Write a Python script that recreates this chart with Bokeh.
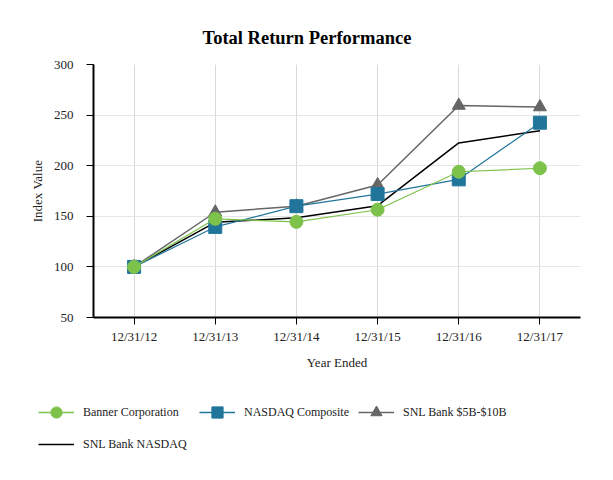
from bokeh.plotting import figure
from bokeh.models import Range1d, FactorRange, Legend, LegendItem, FixedTicker
from bokeh.embed import file_html
from bokeh.resources import INLINE

years = ["12/31/12", "12/31/13", "12/31/14", "12/31/15", "12/31/16", "12/31/17"]
banner = [100, 147.5, 144.5, 156.5, 194, 197.5]
nasdaq = [100, 139.5, 160, 172, 186.5, 242.5]
snl_5b10b = [100, 154, 160, 181, 259.5, 258]
snl_nasdaq = [100, 144, 148.5, 160.5, 222.5, 234.5]
y_ticks = [50, 100, 150, 200, 250, 300]
series_names = ["Banner Corporation", "NASDAQ Composite", "SNL Bank $5B-$10B", "SNL Bank NASDAQ"]

FONT = "Liberation Serif"
GREEN = "#7dc24b"
BLUE = "#21759b"
GRAY = "#666666"
BLACK = "#000000"
TXT = "#222222"
NAN = float("nan")

p = figure(width=605, height=372, x_range=FactorRange(*years), y_range=Range1d(50, 300),
           output_backend="svg", toolbar_location=None, title="Total Return Performance",
           min_border_left=93, min_border_right=25, min_border_top=64, min_border_bottom=10)
p.outline_line_color = None
p.background_fill_color = "white"

p.title.text_font = FONT
p.title.text_font_size = "18.5px"
p.title.text_font_style = "bold"
p.title.text_color = "black"
p.title.align = "left"
p.title.vertical_align = "top"
p.title.offset = 109
p.title.standoff = 30

p.line(years, snl_nasdaq, line_color=BLACK, line_width=1.5)
p.line(years, snl_5b10b, line_color=GRAY, line_width=1.5)
p.scatter(years, snl_5b10b, marker="triangle", size=13, fill_color=GRAY, line_color=GRAY)
p.line(years, nasdaq, line_color=BLUE, line_width=1.2)
p.scatter(years, nasdaq, marker="square", size=13, fill_color=BLUE, line_color=BLUE)
p.line(years, banner, line_color=GREEN, line_width=1.2)
p.scatter(years, banner, marker="circle", size=13, fill_color=GREEN, line_color=GREEN)

for ax in (p.xaxis[0], p.yaxis[0]):
    ax.axis_line_color = "black"
    ax.axis_line_width = 2
    ax.major_tick_line_color = "black"
    ax.major_tick_in = 0
    ax.major_tick_out = 7
    ax.minor_tick_line_color = None
    ax.major_label_text_font = FONT
    ax.major_label_text_font_size = "13px"
    ax.major_label_text_color = TXT
    ax.axis_label_text_font = FONT
    ax.axis_label_text_font_size = "13px"
    ax.axis_label_text_font_style = "normal"
    ax.axis_label_text_color = TXT

p.yaxis.ticker = FixedTicker(ticks=y_ticks)
p.yaxis.axis_label = "Index Value"
p.xaxis.axis_label = "Year Ended"
p.xaxis.major_label_standoff = 4
p.xaxis.axis_label_standoff = 8
p.yaxis.major_label_standoff = 13
p.yaxis.axis_label_standoff = 6

p.xgrid.grid_line_color = "#d9d9d9"
p.ygrid.grid_line_color = "#e6e6e6"
p.ygrid.ticker = FixedTicker(ticks=y_ticks)

# legend panel below the chart (separate root so its frame spans the full width)
lg = figure(width=605, height=98, x_range=Range1d(0, 1), y_range=Range1d(0, 1),
            output_backend="svg", toolbar_location=None, x_axis_type=None, y_axis_type=None,
            min_border=0)
lg.outline_line_color = None
lg.grid.visible = False
g1 = lg.line([NAN], [NAN], line_color=GREEN, line_width=1.5)
g1m = lg.scatter([NAN], [NAN], marker="circle", fill_color=GREEN, line_color=GREEN)
g2 = lg.line([NAN], [NAN], line_color=BLUE, line_width=1.5)
g2m = lg.scatter([NAN], [NAN], marker="square", fill_color=BLUE, line_color=BLUE)
g3 = lg.line([NAN], [NAN], line_color=GRAY, line_width=1.5)
g3m = lg.scatter([NAN], [NAN], marker="triangle", fill_color=GRAY, line_color=GRAY)
g4 = lg.line([NAN], [NAN], line_color=BLACK, line_width=1.5)

entries = [
    (series_names[0], [g1, g1m], (38, 44)),
    (series_names[1], [g2, g2m], (199, 44)),
    (series_names[2], [g3, g3m], (358, 44)),
    (series_names[3], [g4], (38, 12)),
]
for label, rends, loc in entries:
    leg = Legend(items=[LegendItem(label=label, renderers=rends)], location=loc)
    leg.border_line_color = None
    leg.background_fill_alpha = 0
    leg.label_text_font = FONT
    leg.label_text_font_size = "12px"
    leg.label_text_color = TXT
    leg.glyph_width = 36
    leg.glyph_height = 28
    leg.label_standoff = 9
    leg.spacing = 0
    leg.margin = 0
    leg.padding = 0
    leg.label_height = 28
    lg.add_layout(leg, "center")

open("out.html", "w").write(file_html([p, lg], INLINE))
